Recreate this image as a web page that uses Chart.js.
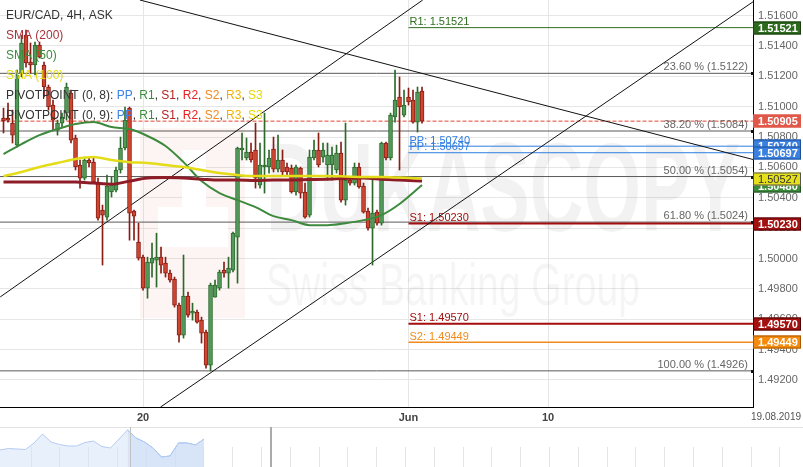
<!DOCTYPE html>
<html><head><meta charset="utf-8">
<script src="https://cdn.jsdelivr.net/npm/chart.js@4.4.0/dist/chart.umd.min.js"></script>
<style>
html,body{margin:0;padding:0;background:#fff;overflow:hidden}
#wrap{position:relative;width:803px;height:467px}
#main{position:absolute;left:0;top:0}
#nav{position:absolute;left:0;top:427px}
</style></head><body>
<div id="wrap">
<canvas id="main" width="803" height="427"></canvas>
<canvas id="nav" width="803" height="40"></canvas>
</div>
<script>
// ---------- DATA ----------
const opens  = [1.50925,1.50925,1.50892,1.50747,1.51222,1.51472,1.51294,1.51275,1.51406,1.51275,1.51130,1.51011,1.50846,1.50892,1.50958,1.51090,1.50794,1.50616,1.50530,1.50649,1.50635,1.50504,1.50319,1.50273,1.50438,1.50451,1.50583,1.50728,1.50991,1.50312,1.50108,1.50009,1.49805,1.49970,1.49990,1.50009,1.49970,1.49904,1.49865,1.49693,1.49495,1.49752,1.49640,1.49647,1.49594,1.49515,1.49298,1.49746,1.49805,1.49924,1.49904,1.49924,1.50141,1.50715,1.50662,1.50701,1.50715,1.50484,1.50603,1.50603,1.50721,1.50589,1.50649,1.50603,1.50596,1.50438,1.50596,1.50438,1.50286,1.50662,1.50715,1.50668,1.50616,1.50616,1.50583,1.50695,1.50385,1.50517,1.50497,1.50603,1.50477,1.50312,1.50200,1.50306,1.50233,1.50761,1.50662,1.50932,1.51064,1.50945,1.51064,1.51044,1.50899,1.51103];
const highs  = [1.50991,1.51024,1.50978,1.51242,1.51472,1.51505,1.51420,1.51426,1.51426,1.51294,1.51143,1.51044,1.50912,1.50958,1.51156,1.51110,1.50813,1.50649,1.50668,1.50662,1.50662,1.50530,1.50352,1.50550,1.50537,1.50603,1.50800,1.50998,1.50998,1.50319,1.50233,1.50023,1.50009,1.50102,1.50167,1.50075,1.50009,1.49924,1.49878,1.49706,1.50023,1.49779,1.49706,1.49660,1.49614,1.49528,1.49838,1.49858,1.49924,1.49976,1.50009,1.50174,1.50734,1.50827,1.50794,1.50761,1.50892,1.50761,1.50958,1.50715,1.50800,1.50813,1.50715,1.50629,1.50616,1.50616,1.50603,1.50497,1.50715,1.50780,1.50827,1.50761,1.50761,1.50734,1.50747,1.50767,1.50892,1.50537,1.50629,1.50629,1.50497,1.50332,1.50517,1.50319,1.50767,1.50767,1.50958,1.51242,1.51196,1.51110,1.51123,1.51110,1.51130,1.51130];
const lows   = [1.50827,1.50899,1.50761,1.50734,1.51196,1.51261,1.51222,1.51209,1.51321,1.51064,1.50978,1.50846,1.50813,1.50866,1.50912,1.50761,1.50583,1.50464,1.50517,1.50603,1.50497,1.50253,1.49957,1.50253,1.50405,1.50438,1.50563,1.50715,1.50121,1.50121,1.49990,1.49792,1.49739,1.49878,1.49812,1.49904,1.49878,1.49845,1.49680,1.49449,1.49476,1.49614,1.49594,1.49574,1.49443,1.49278,1.49260,1.49746,1.49792,1.49878,1.49805,1.49911,1.49838,1.50649,1.50649,1.50635,1.50464,1.50464,1.50431,1.50563,1.50570,1.50570,1.50550,1.50550,1.50431,1.50418,1.50398,1.50266,1.50273,1.50649,1.50603,1.50635,1.50517,1.50517,1.50563,1.50372,1.50352,1.50484,1.50484,1.50464,1.50299,1.50187,1.49957,1.50220,1.50220,1.50649,1.50649,1.50899,1.50583,1.50932,1.51011,1.50892,1.50833,1.50892];
const closes = [1.50906,1.50912,1.50813,1.51209,1.51420,1.51288,1.51275,1.51406,1.51327,1.51130,1.50998,1.50912,1.50892,1.50932,1.51130,1.50780,1.50603,1.50530,1.50649,1.50629,1.50504,1.50266,1.50286,1.50477,1.50497,1.50583,1.50728,1.50912,1.50299,1.50279,1.50003,1.49805,1.49976,1.50003,1.50009,1.49957,1.49904,1.49858,1.49693,1.49495,1.49752,1.49627,1.49653,1.49581,1.49509,1.49298,1.49825,1.49825,1.49911,1.49904,1.49937,1.50167,1.50728,1.50728,1.50701,1.50649,1.50530,1.50616,1.50616,1.50662,1.50589,1.50649,1.50570,1.50570,1.50438,1.50603,1.50431,1.50273,1.50668,1.50715,1.50616,1.50715,1.50682,1.50682,1.50695,1.50385,1.50517,1.50497,1.50603,1.50471,1.50306,1.50200,1.50299,1.50233,1.50761,1.50662,1.50945,1.51044,1.50998,1.51011,1.51031,1.50899,1.51097,1.50905];

const smaIdx = [0,4,8,12,16,20,24,28,32,36,40,44,48,52,56,60,64,68,72,76,80,84,88,93];
const sma50  = [1.50688,1.50754,1.50813,1.50853,1.50886,1.50899,1.50866,1.50853,1.50807,1.50741,1.50635,1.50510,1.50431,1.50385,1.50339,1.50279,1.50253,1.50220,1.50220,1.50233,1.50253,1.50286,1.50359,1.50484];
const sma100 = [1.50543,1.50570,1.50603,1.50629,1.50655,1.50668,1.50649,1.50635,1.50629,1.50616,1.50603,1.50583,1.50563,1.50550,1.50543,1.50543,1.50543,1.50543,1.50543,1.50540,1.50537,1.50537,1.50533,1.50527];
const sma200 = [1.50504,1.50504,1.50504,1.50504,1.50504,1.50497,1.50490,1.50510,1.50530,1.50533,1.50530,1.50523,1.50517,1.50517,1.50514,1.50517,1.50517,1.50520,1.50523,1.50527,1.50530,1.50523,1.50517,1.50510];

const xTickIdx    = [31, 90, 121];
const xTickLabels = ['20', 'Jun', '10'];
const yTicks = [1.492,1.494,1.496,1.498,1.500,1.502,1.504,1.506,1.508,1.510,1.512,1.514,1.516];
const lastPrice = 1.50905;

const fibLabels = ['23.60 %','38.20 %','50.00 %','61.80 %','100.00 %'];
const fibValues = [1.5122,1.5084,1.5054,1.5024,1.4926];

const pivotNames  = ['R1','PP','PP','S1','S1','S2'];
const pivotValues = [1.51521,1.50740,1.50697,1.50230,1.49570,1.49449];
const pivotStart  = 90;

// trend lines: [x0, price0, x1, price1]
const trendA = [30.3, 1.51703, 166.6, 1.50652];
const trendB = [34.9, 1.49022, 166.6, 1.51692];
const trendC = [-0.73, 1.49747, 93.16, 1.51703];

const boxValues = [1.51521, 1.50905, 1.50740, 1.50697, 1.50480, 1.50527, 1.50230, 1.49570, 1.49449];

const navValues = [17,18.5,18,17.5,24,33,25,22.5,21,21,24.5,26,20.5,19,28,37,29,25,19,10,11,24,24,22,28];
const navSelStart = 15;

// ---------- STYLE ----------
const FONT = "'Liberation Sans', Arial, sans-serif";
const X_MIN = -0.78, X_MAX = 166.55, Y_MIN = 1.49022, Y_MAX = 1.51703;
const GREEN_FILL = '#52995a', GREEN_EDGE = '#2b6a2b', RED_FILL = '#cf4630', RED_EDGE = '#8a1c14';
const pivotColors = ['#2f6e1f','#2f7de0','#2f7de0','#a30d0d','#a30d0d','#f08a1c'];
const pivotWidths = [1,1,1,2,2,1.5];
const boxStyles = [
  {bg:'#2b6a1c', fg:'#fff', bd:'#1b3d10'},
  {bg:'#e0584a', fg:'#fff', bd:'#e0584a'},
  {bg:'#3a80e0', fg:'#fff', bd:'#1d4f99'},
  {bg:'#3a80e0', fg:'#fff', bd:'#1d4f99'},
  {bg:'#3c8a3c', fg:'#fff', bd:'#1f4f1f'},
  {bg:'#e6e01c', fg:'#333', bd:'#555', normal:true},
  {bg:'#a40f0f', fg:'#fff', bd:'#4a0606'},
  {bg:'#a40f0f', fg:'#fff', bd:'#4a0606'},
  {bg:'#f58a0c', fg:'#fff', bd:'#a85a00'}
];

// ---------- BUILD ----------
const idx = opens.map((_, i) => i);
const isUp = idx.map(i => closes[i] >= opens[i]);

function hline(v, x0, x1, color, width, dash, order) {
  return {type:'line', data:[{x:x0,y:v},{x:x1,y:v}], borderColor:color, borderWidth:width,
    borderDash:dash||[], pointRadius:0, fill:false, order:order, tension:0};
}
function seg(t, color, order) {
  return {type:'line', data:[{x:t[0],y:t[1]},{x:t[2],y:t[3]}], borderColor:color, borderWidth:1,
    pointRadius:0, fill:false, order:order, tension:0};
}
function smaLine(vals, color, width, order) {
  return {type:'line', data:vals.map((v,i)=>({x:smaIdx[i], y:v})), borderColor:color, borderWidth:width,
    pointRadius:0, fill:false, order:order, tension:0.3, cubicInterpolationMode:'monotone'};
}

const datasets = [];
fibValues.forEach(v => datasets.push(hline(v, -2, 170, '#5a5a5a', 1, [], 20)));
pivotValues.forEach((v,i) => datasets.push(hline(v, pivotStart, 170, pivotColors[i], pivotWidths[i], [], 19)));
datasets.push(hline(lastPrice, -2, 170, '#e2452f', 1, [4,2], 18));
datasets.push(seg(trendA, '#111', 17));
datasets.push(seg(trendB, '#111', 17));
datasets.push(seg(trendC, '#111', 17));
datasets.push({type:'bar', data: idx.map(i => ({x:i, y:[lows[i], highs[i]]})),
  backgroundColor: idx.map(i => isUp[i] ? GREEN_EDGE : RED_EDGE), barThickness:1, grouped:false,
  minBarLength:1, order:10});
datasets.push({type:'bar', data: idx.map(i => ({x:i, y:[opens[i], closes[i]]})),
  backgroundColor: idx.map(i => isUp[i] ? GREEN_FILL : RED_FILL),
  borderColor: idx.map(i => isUp[i] ? GREEN_EDGE : RED_EDGE), borderWidth:1, borderSkipped:false,
  barThickness:4, grouped:false, minBarLength:2, order:9});
datasets.push(smaLine(sma50, '#3d8a3d', 2, 3));
datasets.push(smaLine(sma200, '#8e1c26', 3, 2));
datasets.push(smaLine(sma100, '#e4dc18', 2.5, 1));

const decor = {
  id:'decor',
  beforeDatasetsDraw(chart) {
    const ctx = chart.ctx, ca = chart.chartArea;
    ctx.save();
    ctx.beginPath(); ctx.rect(ca.left, ca.top, ca.right-ca.left, ca.bottom-ca.top); ctx.clip();
    // logo
    ctx.fillStyle = 'rgba(235,120,120,0.08)';
    ctx.fillRect(140, 128, 105, 190);
    ctx.fillStyle = '#fff';
    ctx.fillRect(158, 207, 70, 40);
    ctx.fillRect(182, 150, 24, 57);
    // watermark words
    ctx.fillStyle = 'rgba(0,0,0,0.05)';
    ctx.font = 'bold 126px ' + FONT;
    ctx.textBaseline = 'alphabetic';
    let w = ctx.measureText('DUKASCOPY').width;
    ctx.save(); ctx.translate(266, 231); ctx.scale(474 / w, 1); ctx.fillText('DUKASCOPY', 0, 0); ctx.restore();
    ctx.fillStyle = 'rgba(0,0,0,0.04)';
    ctx.font = '60px ' + FONT;
    w = ctx.measureText('Swiss Banking Group').width;
    ctx.save(); ctx.translate(266, 305); ctx.scale(374 / w, 1); ctx.fillText('Swiss Banking Group', 0, 0); ctx.restore();
    ctx.restore();
  },
  afterDraw(chart) {
    const ctx = chart.ctx, ca = chart.chartArea, ys = chart.scales.y, xs = chart.scales.x;
    ctx.save();
    // fib labels
    ctx.font = '11px ' + FONT; ctx.textBaseline = 'middle'; ctx.textAlign = 'right'; ctx.fillStyle = '#666';
    fibValues.forEach((v,i) => ctx.fillText(fibLabels[i] + ' (' + v.toFixed(4) + ')', ca.right - 5, ys.getPixelForValue(v) - 6));
    // axis markers for horizontal levels
    ctx.fillStyle = '#111';
    fibValues.forEach(v => ctx.fillRect(ca.right - 2, Math.round(ys.getPixelForValue(v)) - 1, 3, 3));
    // pivot labels
    ctx.textAlign = 'left';
    const px = xs.getPixelForValue(pivotStart) + 1;
    pivotValues.forEach((v,i) => {
      ctx.fillStyle = pivotColors[i];
      ctx.fillText(pivotNames[i] + ': ' + v.toFixed(5), px, ys.getPixelForValue(v) - 5.5);
    });
    // legend
    const red = '#b22222';
    const lines = [
      [['EUR/CAD, 4H, ASK','#333']],
      [['SMA (200)','#a8323c']],
      [['SMA (50)','#3c8c3c']],
      [['SMA (100)','#e2da14']],
      [['PIVOTPOINT (0, 8): ','#333'],['PP','#3b82e6'],[', ','#333'],['R1','#3c8c3c'],[', ','#333'],['S1',red],[', ','#333'],['R2','#e82020'],[', ','#333'],['S2','#f08a20'],[', ','#333'],['R3','#f0b400'],[', ','#333'],['S3','#e6d800']],
      [['PIVOTPOINT (0, 9): ','#333'],['PP','#3b82e6'],[', ','#333'],['R1','#3c8c3c'],[', ','#333'],['S1',red],[', ','#333'],['R2','#e82020'],[', ','#333'],['S2','#f08a20'],[', ','#333'],['R3','#f0b400'],[', ','#333'],['S3','#e6d800']]
    ];
    ctx.font = '12px ' + FONT;
    lines.forEach((parts, li) => {
      let x = 6; const y = 16 + li * 20;
      parts.forEach(p => { ctx.fillStyle = p[1]; ctx.fillText(p[0], x, y); x += ctx.measureText(p[0]).width; });
    });
    // right boxes
    boxValues.forEach((v,i) => {
      const s = boxStyles[i]; const y = Math.round(ys.getPixelForValue(v));
      ctx.fillStyle = s.bg; ctx.fillRect(ca.right, y - 6.5, 48, 13);
      ctx.strokeStyle = s.bd; ctx.lineWidth = 1; ctx.strokeRect(ca.right + 0.5, y - 6, 47, 12);
      ctx.fillStyle = s.fg; ctx.font = (s.normal ? '' : 'bold ') + '11px ' + FONT;
      ctx.textAlign = 'left'; ctx.fillText(v.toFixed(5), ca.right + 5, y + 0.5);
    });
    // date label
    ctx.font = '10px ' + FONT; ctx.fillStyle = '#555'; ctx.textAlign = 'center';
    ctx.fillText('19.08.2019', ca.right + 23, ca.bottom + 10);
    ctx.restore();
  }
};

function noPad(s) { s.paddingTop = 0; s.paddingBottom = 0; s.paddingLeft = 0; s.paddingRight = 0; }

new Chart(document.getElementById('main'), {
  type:'bar',
  data:{datasets},
  options:{
    responsive:false, animation:false, devicePixelRatio:1,
    layout:{padding:0},
    plugins:{legend:{display:false}, tooltip:{enabled:false}},
    scales:{
      x:{type:'linear', min:X_MIN, max:X_MAX, offset:false,
        afterBuildTicks: s => { s.ticks = xTickIdx.map(v => ({value:v})); },
        afterFit: s => { s.height = 20; noPad(s); },
        grid:{color:'#e6e6e6', drawTicks:false, offset:false},
        border:{color:'#000', width:1},
        ticks:{padding:4, color:'#444', font:{size:11, weight:'bold', family:FONT}, maxRotation:0, autoSkip:false,
          callback: v => xTickLabels[xTickIdx.indexOf(v)]}
      },
      y:{type:'linear', position:'right', min:Y_MIN, max:Y_MAX, beginAtZero:false,
        afterBuildTicks: s => { s.ticks = yTicks.map(v => ({value:v})); },
        afterFit: s => { s.width = 50; noPad(s); },
        grid:{color:'#e6e6e6', drawTicks:false},
        border:{color:'#000', width:1},
        ticks:{padding:5, color:'#666', font:{size:11, family:FONT}, callback: v => Number(v).toFixed(5)}
      }
    }
  },
  plugins:[decor]
});

// ---------- NAVIGATOR ----------
const NAV_MAX = 94.47;
const navHandles = [15.3, 31.9];
const navDecor = {
  id:'navDecor',
  beforeDatasetsDraw(chart) {
    const ctx = chart.ctx, xs = chart.scales.x, h = chart.height;
    ctx.save();
    ctx.strokeStyle = '#e4e4e4'; ctx.lineWidth = 1;
    for (let v = 3.61; v < NAV_MAX; v += 3.388) {
      const x = Math.round(xs.getPixelForValue(v)) + 0.5;
      ctx.beginPath(); ctx.moveTo(x, 20); ctx.lineTo(x, h); ctx.stroke();
    }
    ctx.strokeStyle = '#e2e2e2';
    ctx.beginPath(); ctx.moveTo(0, 0.5); ctx.lineTo(chart.width, 0.5); ctx.stroke();
    ctx.restore();
  },
  afterDatasetsDraw(chart) {
    const ctx = chart.ctx, xs = chart.scales.x, h = chart.height;
    ctx.save();
    ctx.strokeStyle = '#c4c4c4'; ctx.lineWidth = 1;
    let x = Math.round(xs.getPixelForValue(navHandles[0])) + 0.5;
    ctx.beginPath(); ctx.moveTo(x, 0); ctx.lineTo(x, h); ctx.stroke();
    ctx.strokeStyle = '#aaa'; ctx.lineWidth = 2;
    x = Math.round(xs.getPixelForValue(navHandles[1]));
    ctx.beginPath(); ctx.moveTo(x, 0); ctx.lineTo(x, h); ctx.stroke();
    ctx.restore();
  }
};
new Chart(document.getElementById('nav'), {
  type:'line',
  data:{datasets:[
    {data: navValues.map((v,i) => ({x:i, y:v})), borderColor:'#b4cbf0', borderWidth:1,
      backgroundColor:'rgba(214,228,250,0.55)', fill:'origin', pointRadius:0, tension:0},
    {data: navValues.map((v,i) => ({x:i, y: i >= navSelStart ? v : null})), borderColor:'#8fb0ea', borderWidth:1,
      backgroundColor:'rgba(180,205,245,0.45)', fill:'origin', pointRadius:0, tension:0, spanGaps:false}
  ]},
  options:{
    responsive:false, animation:false, devicePixelRatio:1, layout:{padding:0},
    plugins:{legend:{display:false}, tooltip:{enabled:false}},
    scales:{x:{type:'linear', display:false, min:0, max:NAV_MAX}, y:{display:false, min:0, max:40}}
  },
  plugins:[navDecor]
});
</script>
</body></html>
